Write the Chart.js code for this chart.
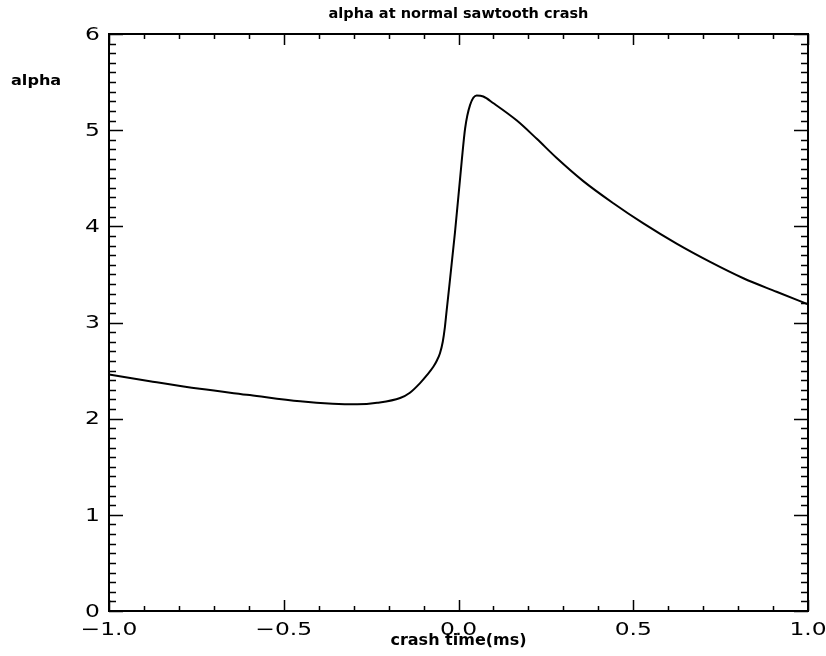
<!DOCTYPE html>
<html>
<head>
<meta charset="utf-8">
<script src="https://cdn.jsdelivr.net/npm/chart.js@4.4.1/dist/chart.umd.min.js"></script>
<style>
  html, body { margin: 0; padding: 0; background: #ffffff; }
  #wrap { width: 826px; height: 656px; }
</style>
</head>
<body>
<div id="wrap"><canvas id="c" width="826" height="656"></canvas></div>
<script>
// ---- data ----
const timeMs = [-1.0, -0.883, -0.74, -0.597, -0.453, -0.36, -0.29, -0.233, -0.167, -0.139, -0.11, -0.091, -0.072, -0.0625, -0.053, -0.045, -0.039, -0.034, -0.010, 0.009, 0.019, 0.033, 0.052, 0.071, 0.100, 0.167, 0.224, 0.281, 0.357, 0.443, 0.529, 0.624, 0.720, 0.815, 0.910, 1.0];
const alphaValues = [2.46, 2.39, 2.31, 2.245, 2.18, 2.155, 2.149, 2.165, 2.215, 2.27, 2.37, 2.45, 2.54, 2.60, 2.68, 2.80, 2.95, 3.12, 3.94, 4.67, 5.02, 5.26, 5.36, 5.35, 5.28, 5.10, 4.91, 4.71, 4.47, 4.24, 4.03, 3.82, 3.63, 3.46, 3.32, 3.19];
const xTickValues = [-1.0, -0.5, 0.0, 0.5, 1.0];
const xTickLabels = ['\u22121.0', '\u22120.5', '0.0', '0.5', '1.0'];
const yTickValues = [0, 1, 2, 3, 4, 5, 6];
const yTickLabels = ['0', '1', '2', '3', '4', '5', '6'];
const chartTitle = 'alpha at normal sawtooth crash';
const xAxisTitle = 'crash time(ms)';
const yAxisTitle = 'alpha';

const points = timeMs.map((t, i) => ({ x: t, y: alphaValues[i] }));

function wideText(ctx, txt, x, y, stretch, align) {
  const w = ctx.measureText(txt).width * stretch;
  let x0 = x;
  if (align === 'center') x0 = x - w / 2;
  else if (align === 'right') x0 = x - w;
  ctx.save();
  ctx.translate(x0, y);
  ctx.scale(stretch, 1);
  ctx.textAlign = 'left';
  ctx.fillText(txt, 0, 0);
  ctx.restore();
}

const framePlugin = {
  id: 'idlFrame',
  afterDraw(chart) {
    const ctx = chart.ctx;
    const a = chart.chartArea;
    const xs = chart.scales.x, ys = chart.scales.y;
    ctx.save();
    ctx.strokeStyle = '#000';
    ctx.lineWidth = 2;
    ctx.strokeRect(a.left, a.top, a.right - a.left, a.bottom - a.top);
    ctx.lineWidth = 1.5;
    ctx.beginPath();
    for (let k = 0; k <= 20; k++) {
      const v = -1 + k * 0.1;
      const px = Math.round(xs.getPixelForValue(v)) + 0.5;
      const l = (k % 5 === 0) ? 11 : 5;
      ctx.moveTo(px, a.bottom); ctx.lineTo(px, a.bottom - l);
      ctx.moveTo(px, a.top); ctx.lineTo(px, a.top + l);
    }
    for (let k = 0; k <= 60; k++) {
      const v = k * 0.1;
      const py = Math.round(ys.getPixelForValue(v)) + 0.5;
      const ll = (k % 10 === 0) ? 14 : 7;
      ctx.moveTo(a.left, py); ctx.lineTo(a.left + ll, py);
      ctx.moveTo(a.right, py); ctx.lineTo(a.right - ll, py);
    }
    ctx.stroke();
    ctx.fillStyle = '#000';
    ctx.font = '18px "DejaVu Sans"';
    ctx.textBaseline = 'alphabetic';
    xTickValues.forEach((v, i) => {
      wideText(ctx, xTickLabels[i], xs.getPixelForValue(v), a.bottom + 24, 1.3, 'center');
    });
    ctx.textBaseline = 'middle';
    yTickValues.forEach((v, i) => {
      wideText(ctx, yTickLabels[i], a.left - 9, ys.getPixelForValue(v) + 1, 1.3, 'right');
    });
    ctx.font = 'bold 14px "DejaVu Sans"';
    ctx.textBaseline = 'middle';
    wideText(ctx, yAxisTitle, 11, 81, 1.15, 'left');
    ctx.restore();
  }
};

new Chart(document.getElementById('c'), {
  type: 'scatter',
  data: {
    datasets: [{
      data: points,
      showLine: true,
      borderColor: '#000',
      borderWidth: 2,
      pointRadius: 0,
      cubicInterpolationMode: 'monotone',
      fill: false
    }]
  },
  options: {
    responsive: false,
    animation: false,
    devicePixelRatio: 1,
    layout: { padding: { left: 0, right: 18, top: 0, bottom: 0 } },
    plugins: {
      legend: { display: false },
      tooltip: { enabled: false },
      title: {
        display: true,
        text: chartTitle,
        fullSize: false,
        color: '#000',
        font: { family: 'DejaVu Sans', size: 14.5, weight: 'bold', lineHeight: 1.2 },
        padding: { top: 6, bottom: 10.6 }
      }
    },
    scales: {
      x: {
        type: 'linear',
        min: -1, max: 1,
        grid: { display: false, drawTicks: false },
        border: { display: false },
        ticks: { display: false, stepSize: 0.5 },
        title: {
          display: true,
          text: xAxisTitle,
          color: '#000',
          font: { family: 'DejaVu Sans', size: 16, weight: 'bold', lineHeight: 1.2 },
          padding: { top: 0, bottom: 6 }
        },
        afterFit(scale) { scale.height = 45; }
      },
      y: {
        type: 'linear',
        min: 0, max: 6,
        grid: { display: false, drawTicks: false },
        border: { display: false },
        ticks: { display: false, stepSize: 1 },
        afterFit(scale) { scale.width = 109; }
      }
    }
  },
  plugins: [framePlugin]
});
</script>
</body>
</html>
